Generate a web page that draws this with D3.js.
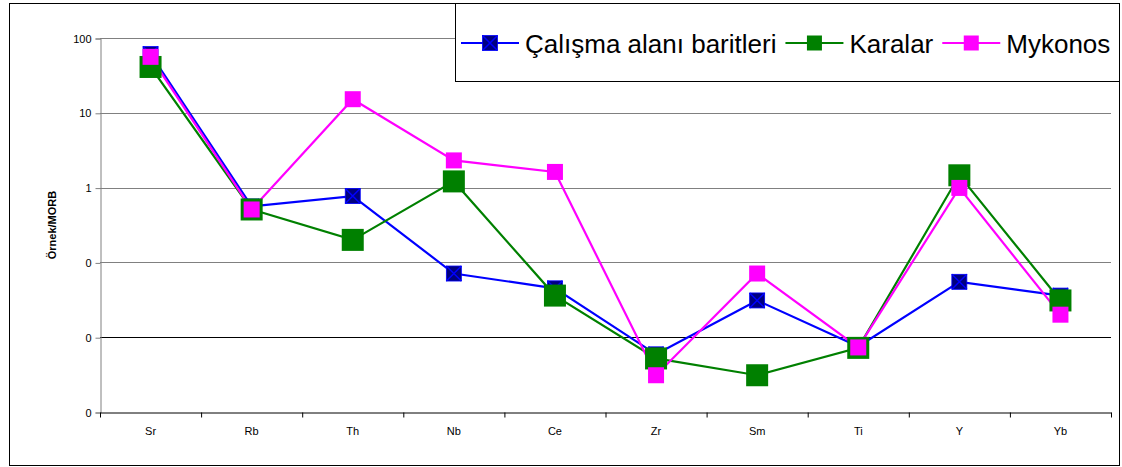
<html>
<head>
    <title>Örnek/MORB</title>
    <script src="https://cdn.jsdelivr.net/npm/d3@7"></script>
    <style>
        body { margin: 0; background: #fff; }
        text { font-family: Arial, "Liberation Sans", sans-serif; }
    </style>
</head>
<body>
    <script type="text/javascript">
        var width = 1122;
        var height = 467;

        // veriler
        var categories = ["Sr", "Rb", "Th", "Nb", "Ce", "Zr", "Sm", "Ti", "Y", "Yb"];
        var calisma = [61, 0.56, 0.77, 0.071, 0.045, 0.0059, 0.031, 0.0075, 0.055, 0.036];
        var karalar = [41, 0.51, 0.20, 1.21, 0.036, 0.0052, 0.0031, 0.0072, 1.46, 0.031];
        var mykonos = [56, 0.51, 15.2, 2.31, 1.62, 0.0031, 0.071, 0.0073, 0.99, 0.020];
        var seriesNames = ["Çalışma alanı baritleri", "Karalar", "Mykonos"];
        var yTicks = [0.001, 0.01, 0.1, 1, 10, 100];

        var series = [
            { name: seriesNames[0], values: calisma, line: "#0000FF", fill: "#000080", size: 15, cross: true },
            { name: seriesNames[1], values: karalar, line: "#008000", fill: "#008000", size: 22, cross: false },
            { name: seriesNames[2], values: mykonos, line: "#FF00FF", fill: "#FF00FF", size: 16, cross: false }
        ];

        var plotL = 100, plotR = 1111, plotT = 38, plotB = 412;

        var svg = d3.select("body")
            .append("svg")
            .attr("width", width)
            .attr("height", height);

        // dis cerceve
        svg.append("rect")
            .attr("x", 9.5).attr("y", 3.5)
            .attr("width", 1110).attr("height", 462)
            .attr("fill", "white")
            .attr("stroke", "black");

        var x = d3.scaleBand().domain(categories).range([plotL, plotR]);
        var xEdge = d3.scaleLinear().domain([0, categories.length]).range([plotL, plotR]);
        var y = d3.scaleLog().domain([0.001, 100]).range([plotB, plotT]);

        // yatay izgara
        svg.selectAll(".grid")
            .data(yTicks.slice(1))
            .enter()
            .append("line")
            .attr("class", "grid")
            .attr("x1", plotL).attr("x2", plotR)
            .attr("y1", d => Math.round(y(d)) + 0.5)
            .attr("y2", d => Math.round(y(d)) + 0.5)
            .attr("stroke", d => d == 0.01 ? "#000" : "#808080")
            .attr("stroke-width", 1);

        // y ekseni
        var yAxis = svg.append("g")
            .attr("transform", "translate(" + (plotL + 0.5) + ",0.5)")
            .call(d3.axisLeft(y).tickValues(yTicks).tickFormat(d3.format(".0f")).tickSize(5).tickPadding(4));
        yAxis.select(".domain").attr("stroke", "#808080");
        yAxis.selectAll(".tick line").attr("stroke", "#808080");
        yAxis.selectAll("text").style("font-size", "11px").attr("fill", "#000");

        // x ekseni
        var xTicks = svg.append("g")
            .attr("transform", "translate(0," + (plotB + 0.5) + ")")
            .call(d3.axisBottom(xEdge).tickValues(d3.range(categories.length + 1)).tickFormat("").tickSize(5).tickSizeOuter(0));
        xTicks.select(".domain").attr("stroke", "#000");

        var xLabels = svg.append("g")
            .attr("transform", "translate(0," + (plotB + 0.5) + ")")
            .call(d3.axisBottom(x).tickSize(0).tickPadding(15));
        xLabels.select(".domain").remove();
        xLabels.selectAll("text").style("font-size", "11px").attr("fill", "#000");

        svg.append("text")
            .attr("transform", "translate(56,225) rotate(-90)")
            .attr("text-anchor", "middle")
            .style("font-size", "11px")
            .style("font-weight", "bold")
            .text("Örnek/MORB");

        var line = d3.line()
            .x((d, i) => x(categories[i]) + x.bandwidth() / 2)
            .y(d => y(d));

        series.forEach(function (s) {
            svg.append("path")
                .datum(s.values)
                .attr("d", line)
                .attr("fill", "none")
                .attr("stroke", s.line)
                .attr("stroke-width", 2.2);
        });

        function drawMarker(g, cx, cy, s) {
            var h = s.size / 2;
            g.append("rect")
                .attr("x", cx - h).attr("y", cy - h)
                .attr("width", s.size).attr("height", s.size)
                .attr("fill", s.fill)
                .attr("stroke", s.cross ? s.line : "none")
                .attr("stroke-width", 0.8);
            if (s.cross) {
                g.append("path")
                    .attr("d", "M" + (cx - h) + "," + (cy - h) + "L" + (cx + h) + "," + (cy + h) +
                        "M" + (cx + h) + "," + (cy - h) + "L" + (cx - h) + "," + (cy + h))
                    .attr("stroke", s.line)
                    .attr("stroke-width", 1.5);
            }
        }

        series.forEach(function (s) {
            var g = svg.append("g");
            s.values.forEach(function (v, i) {
                drawMarker(g, x(categories[i]) + x.bandwidth() / 2, y(v), s);
            });
        });

        // lejant
        svg.append("rect")
            .attr("x", 455.5).attr("y", 3.5)
            .attr("width", 664).attr("height", 78)
            .attr("fill", "white")
            .attr("stroke", "black");

        var lx = 461, ly = 43;
        series.forEach(function (s) {
            var g = svg.append("g");
            g.append("line")
                .attr("x1", lx).attr("x2", lx + 58)
                .attr("y1", ly).attr("y2", ly)
                .attr("stroke", s.line)
                .attr("stroke-width", 2.2);
            drawMarker(g, lx + 29, ly, { fill: s.fill, line: s.line, size: 15, cross: s.cross });
            var t = g.append("text")
                .attr("x", lx + 64)
                .attr("y", ly + 10)
                .style("font-size", "26px")
                .text(s.name);
            lx = lx + 64 + t.node().getComputedTextLength() + 9;
        });
    </script>
</body>
</html>
